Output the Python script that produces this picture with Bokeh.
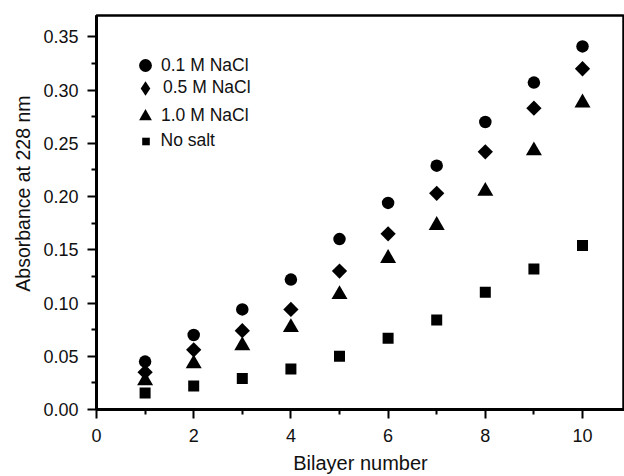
import math
from bokeh.plotting import figure
from bokeh.models import Legend, LegendItem, FixedTicker, NumeralTickFormatter, Title
from bokeh.embed import file_html
from bokeh.resources import INLINE

# ---- data ----
bilayers = [1, 2, 3, 4, 5, 6, 7, 8, 9, 10]
nacl_0_1 = [0.045, 0.070, 0.094, 0.122, 0.160, 0.194, 0.229, 0.270, 0.307, 0.341]
nacl_0_5 = [0.035, 0.056, 0.074, 0.094, 0.130, 0.165, 0.203, 0.242, 0.283, 0.320]
nacl_1_0 = [0.027, 0.043, 0.060, 0.077, 0.108, 0.142, 0.173, 0.205, 0.243, 0.288]
no_salt = [0.0155, 0.022, 0.029, 0.038, 0.050, 0.067, 0.084, 0.110, 0.132, 0.154]

series_labels = ["0.1 M NaCl", "0.5 M NaCl", "1.0 M NaCl", "No salt"]

x_ticks = [0, 2, 4, 6, 8, 10]
x_minor = [1, 3, 5, 7, 9]
y_ticks = [0.0, 0.05, 0.10, 0.15, 0.20, 0.25, 0.30, 0.35]
y_minor = [0.025, 0.075, 0.125, 0.175, 0.225, 0.275, 0.325]

x_title = "Bilayer number"
y_title = "Absorbance at 228 nm"

FONT = "Liberation Sans"
INK = "#111111"

p = figure(width=624, height=476, x_range=(0, 10.864), y_range=(0, 0.37),
           output_backend="svg", toolbar_location=None,
           min_border_left=96, min_border_right=0, min_border_top=15, min_border_bottom=63)
p.background_fill_color = "white"
p.border_fill_color = "white"
p.outline_line_color = "black"
p.outline_line_width = 2.5
p.xgrid.visible = False
p.ygrid.visible = False

p.xaxis.ticker = FixedTicker(ticks=x_ticks, minor_ticks=x_minor)
p.yaxis.ticker = FixedTicker(ticks=y_ticks, minor_ticks=y_minor)
p.xaxis.formatter = NumeralTickFormatter(format="0")
p.yaxis.formatter = NumeralTickFormatter(format="0.00")

for ax in (p.xaxis, p.yaxis):
    ax.axis_line_width = 3
    ax.axis_line_color = "black"
    ax.major_tick_line_width = 2
    ax.minor_tick_line_width = 2
    ax.major_tick_line_color = "black"
    ax.minor_tick_line_color = "black"
    ax.major_tick_out = 9
    ax.major_tick_in = 0
    ax.minor_tick_out = 5
    ax.minor_tick_in = 0
    ax.major_label_text_font = FONT
    ax.major_label_text_font_size = "18px"
    ax.major_label_text_color = INK
p.yaxis.major_label_standoff = 9
p.xaxis.major_label_standoff = 10

p.xaxis.axis_label = x_title
p.xaxis.axis_label_text_font = FONT
p.xaxis.axis_label_text_font_size = "20px"
p.xaxis.axis_label_text_font_style = "normal"
p.xaxis.axis_label_text_color = INK
p.xaxis.axis_label_standoff = 7

r1 = p.scatter(bilayers, nacl_0_1, marker="circle", size=12.5, fill_color="black", line_color=None)
r2 = p.scatter(bilayers, nacl_0_5, marker="square", angle=math.pi / 4, size=10.8,
               fill_color="black", line_color=None)
# legend key for the diamond series (legend glyphs ignore rotation); drawn inside r2's marks
r2_key = p.scatter(bilayers, nacl_0_5, marker="diamond", size=8, fill_color="black", line_color=None)
r3 = p.scatter(bilayers, nacl_1_0, marker="triangle", size=16, fill_color="black", line_color=None)
r4 = p.scatter(bilayers, no_salt, marker="square", size=11, fill_color="black", line_color=None)

# one small legend per entry so each symbol keeps its own size
legend_specs = [
    (series_labels[0], r1, 32, 34, (33, 327), 0),
    (series_labels[1], r2_key, 36, 36, (31, 303.5), -4),
    (series_labels[2], r3, 32, 34, (33, 276.5), 0),
    (series_labels[3], r4, 19, 34, (39.5, 251.3), 6),
]
for lab, rend, gw, gh, loc, standoff in legend_specs:
    leg = Legend(items=[LegendItem(label=lab, renderers=[rend])], location=loc,
                 glyph_width=gw, glyph_height=gh,
                 label_height=gh, padding=0, margin=0, spacing=0,
                 label_standoff=standoff,
                 border_line_color=None, background_fill_alpha=0,
                 label_text_font=FONT, label_text_font_size="17.5px",
                 label_text_color=INK)
    p.add_layout(leg)

p.add_layout(Title(text=y_title, align="right", offset=80, standoff=14,
                   text_font=FONT, text_font_size="19.5px", text_font_style="normal",
                   text_color=INK), "left")

open("out.html", "w").write(file_html(p, INLINE))
